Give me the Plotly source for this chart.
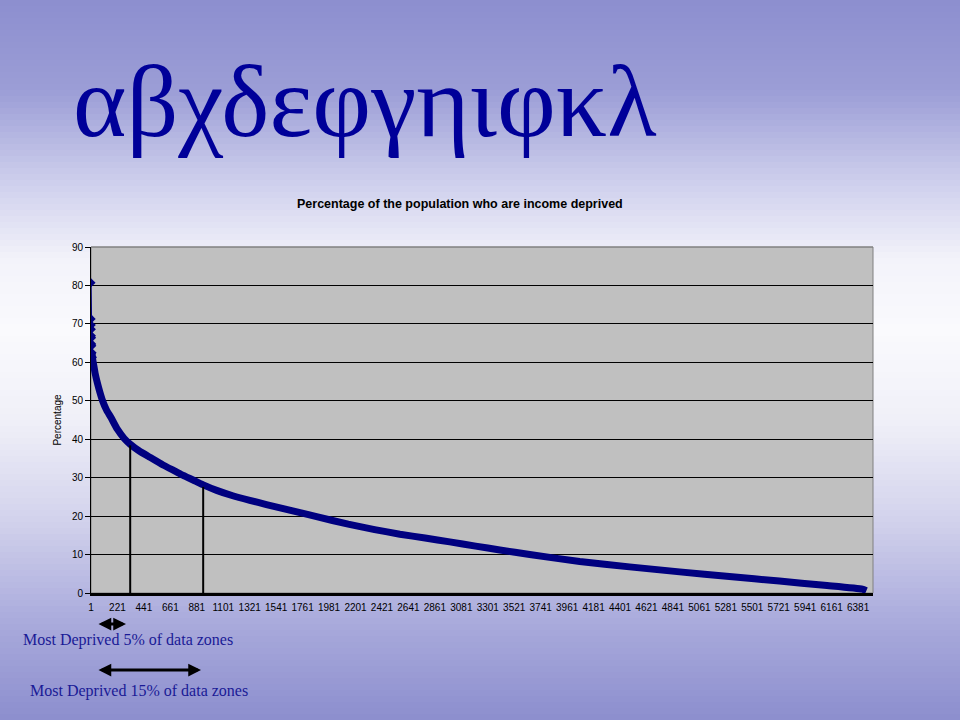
import plotly.graph_objects as go

# ---------------- data ----------------
top_idx = [1, 2, 3, 4, 5, 6, 7, 8, 10, 13]
top_pct = [80.7, 71.3, 69.7, 68.6, 66.9, 66.4, 64.8, 64.3, 62.5, 61.3]

curve_idx = [10, 13, 17, 25, 35, 55, 75, 97, 130, 166, 220, 277, 327, 400, 491, 600,
             700, 768, 850, 930, 1046, 1180, 1322, 1460, 1600, 1740, 1877, 2140, 2360,
             2570, 2780, 2985, 3200, 3401, 3650, 4066, 4480, 4897, 5310, 5727, 6100,
             6416, 6450]
curve_pct = [62.5, 61.3, 60.4, 59.0, 57.2, 54.5, 52.2, 50.0, 47.6, 45.7, 42.6, 40.2, 38.7,
             37.0, 35.3, 33.3, 31.7, 30.6, 29.4, 28.2, 26.7, 25.3, 24.1, 23.0, 21.95, 20.9,
             19.85, 17.9, 16.5, 15.3, 14.3, 13.3, 12.2, 11.2, 10.0, 8.2, 6.8, 5.5, 4.3, 3.1,
             2.0, 1.0, 0.6]

cut_idx = [327, 934]          # 5% and 15% cut-offs
cut_pct = [38.4, 27.6]

x_ticks = [1, 221, 441, 661, 881, 1101, 1321, 1541, 1761, 1981, 2201, 2421, 2641, 2861,
           3081, 3301, 3521, 3741, 3961, 4181, 4401, 4621, 4841, 5061, 5281, 5501, 5721,
           5941, 6161, 6381]
y_ticks = [0, 10, 20, 30, 40, 50, 60, 70, 80, 90]

slide_title = "αβχδεφγηιφκλ"
chart_title = "Percentage of the population who are income deprived"
y_title = "Percentage"
label_5 = "Most Deprived 5% of data zones"
label_15 = "Most Deprived 15% of data zones"

# ---------------- layout helpers ----------------
W, H = 960, 720
PX0, PX1 = 91, 873      # plot area left/right (px)
PY0, PY1 = 247, 593     # plot area top/bottom (px)

def px(x):
    return x / W

def py(y):
    return 1 - y / H

NAVY = "#000080"

fig = go.Figure()

fig.add_trace(go.Scatter(x=curve_idx, y=curve_pct, mode="lines",
                         line=dict(color=NAVY, width=7, shape="spline", smoothing=0.5),
                         hoverinfo="skip", showlegend=False))
fig.add_trace(go.Scatter(x=top_idx, y=top_pct, mode="lines+markers",
                         line=dict(color=NAVY, width=1.2),
                         marker=dict(symbol="diamond", size=7, color=NAVY),
                         showlegend=False))
for xi, yi in zip(cut_idx, cut_pct):
    fig.add_trace(go.Scatter(x=[xi, xi], y=[0, yi], mode="lines",
                             line=dict(color="black", width=2),
                             hoverinfo="skip", showlegend=False))

# ---------------- background gradient ----------------
stops = [(0, (141, 143, 207)), (90, (155, 157, 214)), (180, (205, 206, 236)),
         (260, (243, 243, 250)), (330, (250, 250, 253)), (420, (240, 240, 248)),
         (520, (210, 210, 236)), (620, (170, 171, 220)), (720, (140, 142, 206))]

def grad(y):
    for (y0, c0), (y1, c1) in zip(stops[:-1], stops[1:]):
        if y0 <= y <= y1:
            t = (y - y0) / (y1 - y0)
            return "rgb(%d,%d,%d)" % tuple(round(a + (b - a) * t) for a, b in zip(c0, c1))
    return "rgb(%d,%d,%d)" % stops[-1][1]

shapes = []
step = 6
for y in range(0, H, step):
    shapes.append(dict(type="rect", xref="paper", yref="paper", x0=0, x1=1,
                       y0=py(y + step + 0.5), y1=py(y), fillcolor=grad(y + step / 2),
                       line=dict(width=0), layer="below"))
# plot area
shapes.append(dict(type="rect", xref="paper", yref="paper", x0=px(PX0), x1=px(PX1),
                   y0=py(PY1), y1=py(PY0), fillcolor="#C0C0C0",
                   line=dict(color="#808080", width=1), layer="below"))
# grey top border over the 90 gridline
shapes.append(dict(type="line", xref="paper", yref="paper", x0=px(PX0), x1=px(PX1),
                   y0=py(PY0), y1=py(PY0), line=dict(color="#808080", width=1),
                   layer="above"))

annotations = [
    dict(text=chart_title, xref="paper", yref="paper", x=px(459.5), y=py(204),
         xanchor="center", yanchor="middle", showarrow=False,
         font=dict(family="Arial, Liberation Sans", size=12.5, color="black", weight="bold")),
    dict(text=label_5, xref="paper", yref="paper", x=px(21), y=py(640),
         xanchor="left", yanchor="middle", showarrow=False,
         font=dict(family="Liberation Serif, Times New Roman", size=16, color="#1A1A96")),
    dict(text=label_15, xref="paper", yref="paper", x=px(28), y=py(691),
         xanchor="left", yanchor="middle", showarrow=False,
         font=dict(family="Liberation Serif, Times New Roman", size=16, color="#1A1A96")),
    dict(text="", xref="paper", yref="paper", x=px(126), y=py(624),
         axref="pixel", ayref="pixel", ax=-29, ay=0, showarrow=True,
         arrowhead=2, arrowside="end+start", arrowsize=0.85, arrowwidth=3, arrowcolor="black"),
    dict(text="", xref="paper", yref="paper", x=px(201), y=py(670),
         axref="pixel", ayref="pixel", ax=-104, ay=0, showarrow=True,
         arrowhead=2, arrowside="end+start", arrowsize=0.85, arrowwidth=3, arrowcolor="black"),
]

fig.update_layout(
    width=W, height=H, autosize=False,
    margin=dict(l=0, r=0, t=0, b=0),
    paper_bgcolor="#C8C8EA", plot_bgcolor="rgba(0,0,0,0)",
    showlegend=False,
    title=dict(text=slide_title, x=px(73), xanchor="left", y=py(100), yanchor="middle",
               xref="paper", yref="paper",
               font=dict(family="Liberation Serif, Times New Roman", size=102, color="#000099")),
    shapes=shapes, annotations=annotations,
    xaxis=dict(domain=[px(PX0), px(PX1)], range=[1, 6505], tickmode="array",
               tickvals=x_ticks, ticktext=[str(v) for v in x_ticks],
               showgrid=False, zeroline=False, showline=True, linecolor="black", linewidth=3,
               ticks="", ticklabelstandoff=3,
               tickfont=dict(family="Arial, Liberation Sans", size=10, color="black"),
               automargin=False, fixedrange=True),
    yaxis=dict(domain=[py(PY1), py(PY0)], range=[0, 90], tickmode="array",
               tickvals=y_ticks, showgrid=True, gridcolor="black", gridwidth=1,
               zeroline=False, showline=True, linecolor="black", linewidth=1,
               ticks="outside", ticklen=5, tickcolor="black",
               tickfont=dict(family="Arial, Liberation Sans", size=10, color="black"),
               title=dict(text=y_title, standoff=8,
                          font=dict(family="Arial, Liberation Sans", size=10, color="black")),
               automargin=False, fixedrange=True),
)

fig.write_html("out.html", config={"displayModeBar": False},
               post_script="document.body.style.margin='0';document.body.style.overflow='hidden';")
